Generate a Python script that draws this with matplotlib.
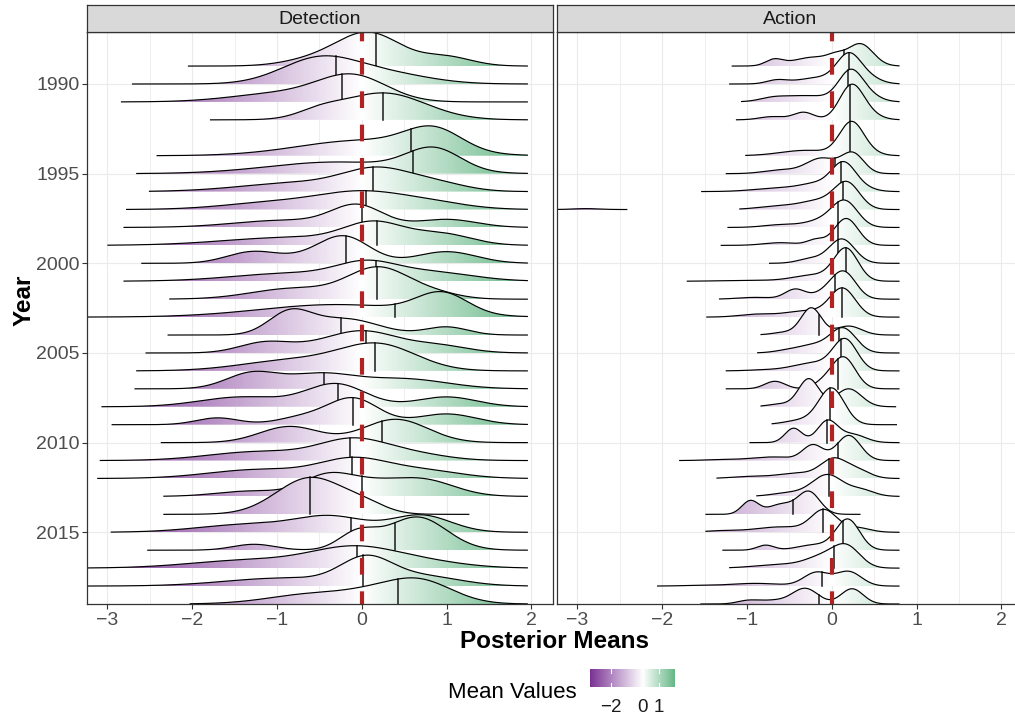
import numpy as np
import matplotlib
matplotlib.use("Agg")
import matplotlib.pyplot as plt
from matplotlib.colors import LinearSegmentedColormap, Normalize
from matplotlib.patches import Polygon

plt.rcParams['font.family'] = ['Liberation Sans', 'DejaVu Sans']
plt.rcParams['lines.scale_dashes'] = False

years = [1989, 1990, 1991, 1992, 1994, 1995, 1996, 1997, 1998, 1999,
         2000, 2001, 2002, 2003, 2004, 2005, 2006, 2007, 2008, 2009,
         2010, 2011, 2012, 2013, 2014, 2015, 2016, 2017, 2018, 2019]

# Detection ridges: range of each density, its median and its humps
# (location, height in rows, spread)
det_start = [-2.05, -2.71, -2.84, -1.79, -2.42, -2.66, -2.51, -2.78, -2.81, -3.0,
             -2.6, -2.81, -2.27, -3.3, -2.29, -2.55, -2.66, -2.68, -3.07, -2.95,
             -2.37, -3.09, -3.12, -2.34, -2.34, -2.96, -2.53, -3.3, -3.3, -2.03]
det_end = [1.96] * 24 + [1.27] + [1.96] * 5
det_median = [0.165, -0.30, -0.23, 0.25, 0.58, 0.60, 0.13, 0.055, 0.0, 0.18,
              -0.19, 0.17, 0.18, 0.39, -0.25, 0.055, 0.16, -0.44, -0.28, -0.10,
              0.24, -0.14, -0.12, 0.0, -0.61, -0.13, 0.39, -0.055, 0.02, 0.43]
det_peaks = [
    [(0.08, 1.85, 0.38), (1.0, 0.5, 0.3), (-0.6, 0.3, 0.35)],
    [(-0.5, 1.4, 0.45), (0.3, 0.55, 0.5)],
    [(-0.1, 1.35, 0.4), (-0.9, 0.5, 0.6)],
    [(0.25, 1.5, 0.5), (-0.5, 0.35, 0.25)],
    [(0.85, 1.2, 0.33), (0.0, 0.85, 0.75)],
    [(0.85, 1.25, 0.32), (-0.3, 0.65, 0.8)],
    [(0.2, 1.1, 0.4), (-0.7, 0.5, 0.7), (0.9, 0.4, 0.35)],
    [(0.0, 0.88, 0.5), (-1.0, 0.4, 0.6), (0.8, 0.35, 0.45)],
    [(-0.05, 1.15, 0.3), (-0.9, 0.4, 0.6), (1.0, 0.45, 0.35)],
    [(0.15, 1.1, 0.35), (-0.8, 0.45, 0.8), (0.95, 0.6, 0.35)],
    [(-0.2, 1.35, 0.3), (-1.3, 0.6, 0.3), (-0.6, 0.3, 0.4), (1.0, 0.65, 0.35)],
    [(0.05, 0.8, 0.35), (-0.8, 0.45, 0.7), (0.8, 0.5, 0.5)],
    [(0.2, 1.7, 0.36), (-0.8, 0.6, 0.5), (0.85, 0.3, 0.3)],
    [(0.95, 1.15, 0.3), (-0.3, 0.7, 0.9)],
    [(-0.85, 1.2, 0.25), (-0.2, 0.9, 0.4), (1.0, 0.45, 0.25)],
    [(0.05, 1.1, 0.4), (-1.15, 0.55, 0.3), (-0.5, 0.3, 0.4), (0.9, 0.4, 0.35)],
    [(0.2, 1.4, 0.45), (-0.8, 0.6, 0.6)],
    [(-1.3, 0.85, 0.3), (-0.5, 0.8, 0.4), (0.5, 0.55, 0.5)],
    [(-0.3, 1.25, 0.35), (-1.4, 0.55, 0.5), (1.0, 0.55, 0.35)],
    [(-0.1, 1.45, 0.3), (-0.7, 0.4, 0.3), (-1.7, 0.38, 0.25), (1.0, 0.6, 0.35)],
    [(0.4, 1.3, 0.38), (-0.85, 0.9, 0.35)],
    [(-0.1, 1.1, 0.4), (-1.2, 0.5, 0.6), (0.6, 0.35, 0.4)],
    [(-0.1, 1.0, 0.4), (-1.2, 0.5, 0.6), (0.7, 0.45, 0.45)],
    [(-0.4, 1.15, 0.3), (0.1, 0.5, 0.3), (0.7, 0.95, 0.38), (-1.3, 0.3, 0.4)],
    [(-0.6, 2.05, 0.4), (0.05, 0.4, 0.25)],
    [(-0.35, 0.8, 0.4), (-1.3, 0.45, 0.6), (0.7, 0.95, 0.35)],
    [(0.65, 1.85, 0.35), (-0.05, 0.95, 0.22), (-1.27, 0.33, 0.25)],
    [(-0.1, 1.05, 0.5), (-1.3, 0.45, 0.7), (0.7, 0.35, 0.5)],
    [(0.05, 1.35, 0.3), (-0.9, 0.45, 0.7), (0.7, 0.55, 0.45)],
    [(0.65, 1.35, 0.4), (-0.5, 0.6, 0.55), (0.05, 0.2, 0.3)],
]

# Action ridges
act_start = [-1.18, -1.21, -1.07, -1.13, -1.02, -1.25, -1.54, -1.09, -1.23, -1.31,
             -0.74, -1.71, -1.33, -1.48, -0.84, -0.88, -1.25, -1.25, -0.84, -0.71,
             -0.97, -1.8, -1.36, -0.89, -1.49, -1.49, -1.29, -1.21, -2.06, -1.55]
act_end = [0.8] * 18 + [0.76, 0.77] + [0.8] * 4 + [0.34] + [0.8] * 5
act_median = [0.15, 0.20, 0.19, 0.22, 0.22, 0.04, 0.11, 0.13, 0.07, 0.08,
              0.08, 0.17, 0.04, 0.125, -0.145, 0.09, 0.11, 0.07, -0.10, -0.02,
              -0.05, 0.07, -0.03, -0.03, -0.46, -0.10, 0.13, 0.03, -0.12, -0.15]
act_peaks = [
    [(0.34, 1.2, 0.15), (0.05, 0.3, 0.1), (-0.2, 0.5, 0.25), (-0.68, 0.33, 0.1)],
    [(0.2, 1.5, 0.14), (0.42, 0.35, 0.15), (-0.15, 0.35, 0.25), (-0.65, 0.2, 0.12)],
    [(0.22, 1.6, 0.14), (0.42, 0.35, 0.15), (-0.3, 0.35, 0.3), (-0.7, 0.15, 0.15)],
    [(0.23, 1.85, 0.14), (0.42, 0.3, 0.15), (-0.33, 0.42, 0.12), (-0.7, 0.18, 0.15)],
    [(0.23, 1.75, 0.14), (0.4, 0.2, 0.15), (-0.3, 0.3, 0.3)],
    [(0.25, 1.1, 0.13), (-0.12, 0.85, 0.18), (-0.6, 0.2, 0.2)],
    [(0.14, 1.45, 0.14), (-0.15, 0.4, 0.2), (-0.6, 0.2, 0.3), (0.35, 0.2, 0.15)],
    [(0.18, 1.45, 0.15), (-0.15, 0.45, 0.2), (-0.6, 0.2, 0.25)],
    [(0.16, 1.35, 0.15), (-0.1, 0.4, 0.2), (-0.6, 0.15, 0.2)],
    [(0.17, 1.5, 0.14), (-0.19, 0.3, 0.1), (-0.6, 0.15, 0.2)],
    [(0.12, 1.35, 0.15), (-0.25, 0.25, 0.15)],
    [(0.17, 1.75, 0.14), (-0.2, 0.35, 0.25), (-1.0, 0.05, 0.3)],
    [(0.15, 1.4, 0.14), (-0.43, 0.55, 0.12), (-0.05, 0.4, 0.15), (-0.9, 0.1, 0.2)],
    [(0.13, 1.55, 0.15), (-0.3, 0.35, 0.25), (-0.9, 0.15, 0.2)],
    [(-0.24, 1.5, 0.12), (0.2, 0.5, 0.15), (-0.55, 0.15, 0.15)],
    [(0.14, 1.3, 0.15), (-0.2, 0.45, 0.2), (-0.55, 0.1, 0.15)],
    [(0.16, 1.65, 0.14), (-0.2, 0.45, 0.25), (-0.8, 0.05, 0.2)],
    [(0.14, 1.75, 0.14), (-0.67, 0.42, 0.12), (-0.1, 0.3, 0.12)],
    [(-0.27, 1.55, 0.12), (0.2, 1.0, 0.15), (-0.6, 0.15, 0.15)],
    [(0.0, 2.0, 0.15), (-0.35, 0.25, 0.2)],
    [(-0.05, 1.2, 0.12), (-0.45, 0.8, 0.1), (0.25, 0.45, 0.15)],
    [(0.2, 1.4, 0.14), (-0.22, 0.85, 0.12), (-0.7, 0.2, 0.25), (-1.3, 0.05, 0.2)],
    [(0.02, 1.0, 0.15), (0.3, 0.45, 0.15), (-0.4, 0.3, 0.25), (-1.0, 0.1, 0.2)],
    [(-0.05, 1.2, 0.18), (0.35, 0.35, 0.15), (-0.5, 0.2, 0.2)],
    [(-0.27, 1.25, 0.13), (-0.96, 0.75, 0.1), (-0.6, 0.55, 0.15)],
    [(-0.09, 1.2, 0.15), (0.3, 0.25, 0.15), (-0.6, 0.3, 0.3), (-1.3, 0.08, 0.2)],
    [(0.19, 1.7, 0.14), (-0.78, 0.28, 0.1), (-0.2, 0.3, 0.2)],
    [(0.18, 1.1, 0.16), (-0.1, 0.6, 0.2), (-0.6, 0.2, 0.3)],
    [(-0.18, 0.75, 0.15), (0.2, 0.8, 0.15), (-0.9, 0.15, 0.3), (-1.6, 0.03, 0.2)],
    [(-0.31, 0.85, 0.15), (0.24, 0.85, 0.13), (-1.0, 0.15, 0.12), (-0.7, 0.2, 0.2)],
]
# lone far-left Action density in 1997
act_extra_year = 1997
act_extra_range = (-3.3, -2.41)
act_extra_peaks = [(-2.9, 0.05, 0.15)]

fill_limits = (-3.3, 2.0)
x_ticks = [-3, -2, -1, 0, 1, 2]
y_ticks = [1990, 1995, 2000, 2005, 2010, 2015]

W, H = 1015, 719
cmap = LinearSegmentedColormap.from_list('prgn', ['#7B3294', '#FFFFFF', '#008837'])
span = max(abs(fill_limits[0]), abs(fill_limits[1]))
norm = Normalize(-span, span)


def density(x, peaks):
    x = np.asarray(x, dtype=float)
    out = np.zeros_like(x)
    for loc, hgt, sd in peaks:
        out += hgt * np.exp(-0.5 * ((x - loc) / sd) ** 2)
    return out


def ridge(ax, year, lo, hi, peaks, z, median=None):
    xs = np.linspace(lo, hi, 600)
    hs = density(xs, peaks)
    ys = year - hs
    poly = Polygon(np.column_stack([np.r_[xs, hi, lo], np.r_[ys, year, year]]),
                   closed=True, transform=ax.transData)
    grad = np.linspace(lo, hi, 400)[None, :]
    im = ax.imshow(grad, cmap=cmap, norm=norm, aspect='auto', interpolation='bilinear',
                   extent=[lo, hi, year, year - hs.max() - 0.05], zorder=z)
    im.set_clip_path(poly)
    ax.plot(xs, ys, color='black', lw=0.85, zorder=z + 0.2, solid_capstyle='butt')
    if median is not None:
        hm = float(density([median], peaks)[0])
        ax.plot([median, median], [year, year - hm], color='#1A1A1A', lw=1.1, zorder=z + 0.1)


def px(x0, y0, x1, y1):
    return [x0 / W, 1 - y1 / H, (x1 - x0) / W, (y1 - y0) / H]


fig = plt.figure(figsize=(W / 100, H / 100), dpi=100)

# the second panel runs past the right edge of the image
panels = [
    ('Detection', px(87, 32, 553, 604), det_start, det_end, det_median, det_peaks),
    ('Action', px(557, 32, 1023, 604), act_start, act_end, act_median, act_peaks),
]
for k, (title, box, starts, ends, medians, peaks) in enumerate(panels):
    ax = fig.add_axes(box)
    for g in np.arange(-3, 2.01, 0.5):
        ax.axvline(g, color='#EBEBEB', lw=0.8 if g % 1 == 0 else 0.6, zorder=0)
    for g in y_ticks:
        ax.axhline(g, color='#EBEBEB', lw=0.8, zorder=0)

    for i, yr in enumerate(years):
        ridge(ax, yr, starts[i], ends[i], peaks[i], 2 + i, medians[i])
        if title == 'Action' and yr == act_extra_year:
            ridge(ax, yr, act_extra_range[0], act_extra_range[1], act_extra_peaks, 2 + i)

    ax.plot([0, 0], [2019.2, 1986.0], color='#B22222', lw=3.0, dashes=(12, 12),
            solid_capstyle='butt', dash_capstyle='butt', zorder=100)

    ax.set_xlim(-3.24, 2.256)
    ax.set_ylim(2019.0, 1987.1)
    ax.set_xticks(x_ticks)
    ax.set_xticklabels(['\u22123', '\u22122', '\u22121', '0', '1', '2'])
    ax.tick_params(axis='x', length=3.5, width=0.8, color='#333333', labelsize=14,
                   labelcolor='#4D4D4D', pad=2)
    if k == 0:
        ax.set_yticks(y_ticks)
        ax.set_yticklabels([str(y) for y in y_ticks])
        ax.tick_params(axis='y', length=3.5, width=0.8, color='#333333', labelsize=14,
                       labelcolor='#4D4D4D', pad=2)
    else:
        ax.set_yticks([])
    for s in ax.spines.values():
        s.set_color('#333333')
        s.set_linewidth(0.9)
        s.set_zorder(110)

    # facet strip
    sx = ax.get_position()
    strip = fig.add_axes([sx.x0, 1 - 32 / H, sx.width, 27 / H])
    strip.set_facecolor('#D9D9D9')
    strip.set_xticks([])
    strip.set_yticks([])
    for s in strip.spines.values():
        s.set_color('#333333')
        s.set_linewidth(0.9)
    strip.text(0.5, 0.47, title, ha='center', va='center', fontsize=14, color='#1A1A1A')

fig.text(554 / W, 1 - 641 / H, 'Posterior Means', ha='center', va='center',
         fontsize=17.5, fontweight='bold', color='black')
fig.text(24 / W, 1 - 300 / H, 'Year', ha='center', va='center', rotation=90,
         fontsize=17.5, fontweight='bold', color='black')

# colour bar legend
fig.text(577 / W, 1 - 693 / H, 'Mean Values', ha='right', va='center', fontsize=16,
         color='black')
cax = fig.add_axes(px(590, 669, 675, 687))
bar = np.linspace(fill_limits[0], fill_limits[1], 300)[None, :]
cax.imshow(bar, cmap=cmap, norm=norm, aspect='auto',
           extent=[fill_limits[0], fill_limits[1], 0, 1])
for t in [-2, 0, 1]:
    cax.plot([t, t], [0, 0.2], color='white', lw=0.8)
    cax.plot([t, t], [0.8, 1], color='white', lw=0.8)
cax.set_xlim(*fill_limits)
cax.set_ylim(0, 1)
cax.axis('off')
for t, lab in zip([-2, 0, 1], ['\u22122', '0', '1']):
    x = 590 + (t - fill_limits[0]) / (fill_limits[1] - fill_limits[0]) * 85
    fig.text(x / W, 1 - 707 / H, lab, ha='center', va='center', fontsize=13.5, color='#1A1A1A')

fig.savefig('out.png', dpi=100)
